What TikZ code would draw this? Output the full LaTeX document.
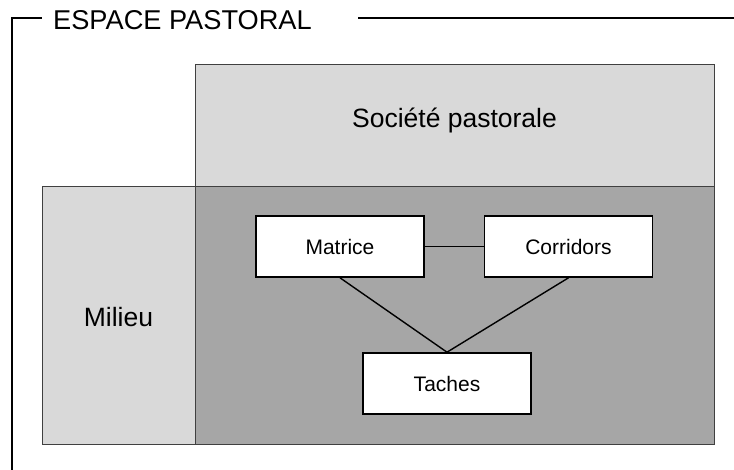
\documentclass[tikz,border=0pt]{standalone}
\usepackage{fontspec}
\setmainfont{Liberation Sans}
\definecolor{lightg}{HTML}{D9D9D9}
\definecolor{darkg}{HTML}{A6A6A6}
\definecolor{edgeg}{HTML}{404040}
\begin{document}
\begin{tikzpicture}[x=1pt,y=-1pt,
  zone/.style={draw=edgeg, line width=1pt, inner sep=0pt, anchor=north west},
  elem/.style={draw=black, fill=white, line width=1.6pt, inner sep=0pt,
    minimum width=168pt, minimum height=61pt, font=\fontsize{21}{25}\selectfont},
  label/.style={inner sep=0pt, font=\fontsize{26.5}{31}\selectfont},
  link/.style={draw=black, line width=1.4pt},
  frame/.style={draw=black, line width=1.6pt}]
\useasboundingbox (0,0) rectangle (734,470);
% zones
\node[zone, fill=lightg, minimum width=519pt, minimum height=122pt] (soc) at (195,64) {};
\node[zone, fill=lightg, minimum width=153pt, minimum height=258pt] (mil) at (42,186) {};
\node[zone, fill=darkg, minimum width=519pt, minimum height=258pt] (core) at (195,186) {};
% labels
\node[label, anchor=base] (soct) at (454.5,128) {Société pastorale};
\node[label, anchor=base] (milt) at (118.5,327) {Milieu};
\node[label, anchor=base west, font=\fontsize{27.2}{31}\selectfont] (title) at (53,30) {ESPACE PASTORAL};
% frame
\coordinate (fb) at (12,470);
\coordinate (ftl) at (12,18);
\coordinate (fl) at (42,18);
\coordinate (fr1) at (358,18);
\coordinate (fr2) at (734,18);
\draw[frame] (fb) -- (ftl) -- (fl);
\draw[frame] (fr1) -- (fr2);
% elements
\node[elem] (mat) at (340,246.5) {Matrice};
\node[elem] (cor) at (568.5,246.5) {Corridors};
\node[elem] (tac) at (447,383.5) {Taches};
\draw[link] (mat.east) -- (cor.west);
\draw[link] (mat.south) -- (tac.north);
\draw[link] (cor.south) -- (tac.north);
\end{tikzpicture}
\end{document}
